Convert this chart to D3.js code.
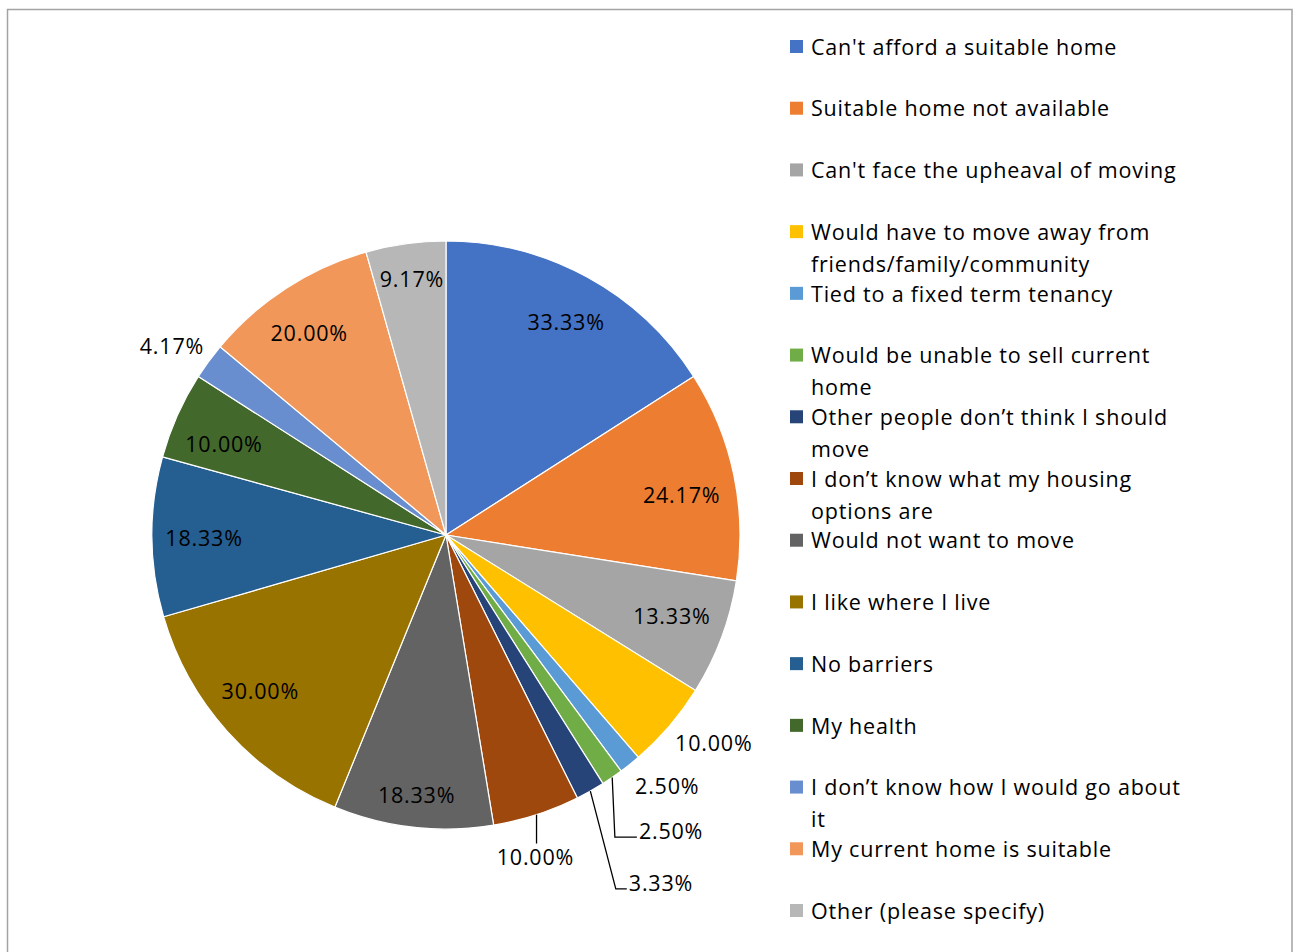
<!DOCTYPE html>
<html>
<head>
<meta charset="utf-8">
<script src="https://cdn.jsdelivr.net/npm/d3@7"></script>
<style>
  html, body { margin: 0; padding: 0; background: #ffffff; }
  svg { display: block; }
  text { font-family: "Open Sans", Lato, sans-serif; fill: #000; }
</style>
</head>
<body>
<svg id="chart" width="1293" height="952"></svg>
<script>
// Barriers to moving home: share of respondents (%)
const categories = [
  "Can't afford a suitable home",
  "Suitable home not available",
  "Can't face the upheaval of moving",
  "Would have to move away from friends/family/community",
  "Tied to a fixed term tenancy",
  "Would be unable to sell current home",
  "Other people don\u2019t think I should move",
  "I don\u2019t know what my housing options are",
  "Would not want to move",
  "I like where I live",
  "No barriers",
  "My health",
  "I don\u2019t know how I would go about it",
  "My current home is suitable",
  "Other (please specify)"
];
const values = [33.33, 24.17, 13.33, 10.00, 2.50, 2.50, 3.33, 10.00, 18.33, 30.00, 18.33, 10.00, 4.17, 20.00, 9.17];

// Legend entries as they wrap in the legend column
const legendLines = [
  ["Can't afford a suitable home"],
  ["Suitable home not available"],
  ["Can't face the upheaval of moving"],
  ["Would have to move away from", "friends/family/community"],
  ["Tied to a fixed term tenancy"],
  ["Would be unable to sell current", "home"],
  ["Other people don\u2019t think I should", "move"],
  ["I don\u2019t know what my housing", "options are"],
  ["Would not want to move"],
  ["I like where I live"],
  ["No barriers"],
  ["My health"],
  ["I don\u2019t know how I would go about", "it"],
  ["My current home is suitable"],
  ["Other (please specify)"]
];

const colors = ["#4472C4", "#ED7D31", "#A5A5A5", "#FFC000", "#5B9BD5", "#70AD47", "#264478",
                "#9E480E", "#636363", "#997300", "#255E91", "#43682B", "#698ED0", "#F1975A", "#B7B7B7"];

// Data label placement: distance from centre (px) and angular nudge from slice middle (deg)
const labelPlacement = [
  {r: 244, da: 0.8}, {r: 239, da: 2.2}, {r: 240, da: -0.7}, {r: 339, da: -2.7},
  {r: 335, da: -2.6}, {r: 372, da: -2.8, leader: "side", stub: 22},
  {r: 409, da: -2.3, leader: "side", stub: 11}, {r: 334, da: 2.4, leader: "top"},
  {r: 262, da: 0}, {r: 243, da: 1.8}, {r: 242, da: -0.5}, {r: 240, da: -1.7},
  {r: 333, da: -1.6}, {r: 244, da: -1.1}, {r: 258, da: 0.3}
];

const FONT_SIZE = 21.5;
const LETTER_SPACING = 0.8;

const svg = d3.select("#chart");

// chart area frame
svg.append("rect")
  .attr("x", 7.5).attr("y", 9.5)
  .attr("width", 1284.5).attr("height", 960)
  .attr("fill", "#fff")
  .attr("stroke", "#a3a3a3").attr("stroke-width", 1.5);

const cx = 446, cy = 535, R = 294;
const color = d3.scaleOrdinal().domain(categories).range(colors);

const pie = d3.pie().sort(null).value(d => d.value);
const arcs = pie(categories.map((c, i) => ({name: c, value: values[i], idx: i})));
const arc = d3.arc().innerRadius(0).outerRadius(R);

const g = svg.append("g").attr("transform", `translate(${cx},${cy})`);

g.selectAll("path.slice")
  .data(arcs)
  .join("path")
  .attr("class", "slice")
  .attr("d", arc)
  .attr("fill", d => color(d.data.name))
  .attr("stroke", "#ffffff")
  .attr("stroke-width", 1.2)
  .attr("stroke-linejoin", "round");

const fmt = v => v.toFixed(2) + "%";
const polar = (r, a) => [r * Math.sin(a), -r * Math.cos(a)];

const labels = g.selectAll("g.lbl")
  .data(arcs)
  .join("g")
  .attr("class", "lbl");

labels.each(function(d, i) {
  const p = labelPlacement[i];
  const mid = (d.startAngle + d.endAngle) / 2;
  const [x, y] = polar(p.r, mid + p.da * Math.PI / 180);
  const t = d3.select(this).append("text")
    .attr("x", x).attr("y", y)
    .attr("dy", "0.36em")
    .attr("text-anchor", "middle")
    .attr("font-size", FONT_SIZE)
    .attr("letter-spacing", LETTER_SPACING)
    .text(fmt(d.data.value));

  if (p.leader) {
    const bb = t.node().getBBox();
    const start = polar(R, mid);
    let pts;
    if (p.leader === "side") {
      const end = [bb.x - 2, y + 6];
      pts = [start, [end[0] - p.stub, end[1]], end];
    } else {
      pts = [start, [start[0], bb.y + 2]];
    }
    d3.select(this).insert("path", "text")
      .attr("d", d3.line()(pts))
      .attr("fill", "none")
      .attr("stroke", "#000")
      .attr("stroke-width", 1.3);
  }
});

// Legend
const legendY = d3.scaleLinear().domain([0, categories.length - 1]).range([47, 911]);
const legend = svg.append("g").selectAll("g")
  .data(categories)
  .join("g")
  .attr("transform", (d, i) => `translate(790,${legendY(i)})`);

legend.append("rect")
  .attr("x", 0).attr("y", -7)
  .attr("width", 13).attr("height", 13)
  .attr("fill", d => color(d));

legend.append("text")
  .attr("x", 21)
  .attr("font-size", FONT_SIZE)
  .attr("letter-spacing", LETTER_SPACING)
  .selectAll("tspan")
  .data((d, i) => legendLines[i])
  .join("tspan")
  .attr("x", 21)
  .attr("y", (d, j) => j * 32)
  .attr("dy", "0.36em")
  .text(d => d);
</script>
</body>
</html>
